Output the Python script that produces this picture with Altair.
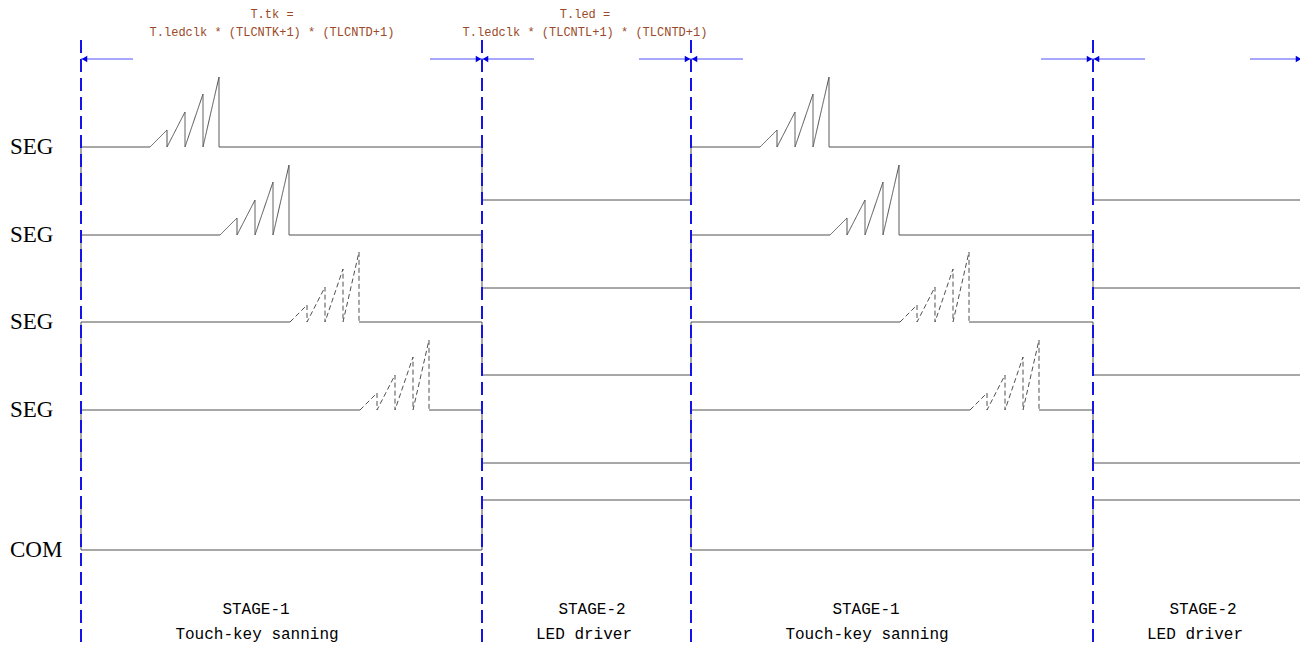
import altair as alt
import pandas as pd

# ---------------- data (time axis t, level axis in diagram units) ----------------
boundaries = [0, 401, 610, 1012, 1221]          # stage boundaries
stage_title = ["STAGE-1", "STAGE-2", "STAGE-1", "STAGE-2"]
stage_desc = ["Touch-key sanning", "LED driver", "Touch-key sanning", "LED driver"]
title_offset = [175, 110, 175, 110]
desc_offset = [176, 102, 176, 102]

signal_names = ["SEG", "SEG", "SEG", "SEG", "COM"]
level_stage1 = [147, 235, 322, 410, 550]
level_stage2 = [200, 288, 375, 463, 500]

ramp_start = 69
tooth_peaks = [86, 104, 122, 138]
tooth_heights = [17, 35, 53, 70]
seg_shift = [0, 70, 140, 210]
tooth_dashed = [False, False, True, True]

formula_head = ["T.tk =", "T.led ="]
formula_body = ["T.ledclk * (TLCNTK+1) * (TLCNTD+1)",
                "T.ledclk * (TLCNTL+1) * (TLCNTD+1)"]
formula_t = [191, 504]

arrow_len = 52
arrow_level = 59
guide_top = 40

# ---------------- layout ----------------
W, H = 1292, 640
X0 = 81  # pixel of t = 0
xscale = alt.Scale(domain=[8 - X0, 8 + W - X0], nice=False, zero=False)
yscale = alt.Scale(domain=[8 + H, 8], nice=False, zero=False)

# ---------------- signal paths ----------------
rows = []
pid = [0]


def add(style, pts):
    for k, (t, y) in enumerate(pts):
        rows.append(dict(path=pid[0], style=style, k=k, t=t, y=y))
    pid[0] += 1


for i, name in enumerate(signal_names):
    hi, lo = level_stage1[i], level_stage2[i]
    for c in range(2):
        s1, s2, e = boundaries[2 * c], boundaries[2 * c + 1], boundaries[2 * c + 2]
        if name == "SEG":
            r0 = s1 + ramp_start + seg_shift[i]
            last = s1 + tooth_peaks[-1] + seg_shift[i]
            add("solid", [(s1, lo), (s1, hi), (r0, hi)])
            teeth = [(r0, hi)]
            for p, h in zip(tooth_peaks, tooth_heights):
                tp = s1 + p + seg_shift[i]
                teeth += [(tp, hi - h), (tp, hi)]
            add("dashed" if tooth_dashed[i] else "solid", teeth)
            add("solid", [(last, hi), (s2, hi), (s2, lo), (e, lo)])
        else:
            add("solid", [(s1, lo), (s1, hi), (s2, hi), (s2, lo), (e, lo)])

sig_df = pd.DataFrame(rows)

signals = alt.Chart(sig_df).mark_line(color="#505050", strokeWidth=1).encode(
    x=alt.X("t:Q", scale=xscale, axis=None),
    y=alt.Y("y:Q", scale=yscale, axis=None),
    detail="path:N",
    order="k:Q",
    strokeDash=alt.StrokeDash("style:N", legend=None,
                              scale=alt.Scale(domain=["solid", "dashed"],
                                              range=[[1, 0], [5, 3]])),
)

# ---------------- blue guides ----------------
guide_df = pd.DataFrame({"t": boundaries, "y": [guide_top] * 5, "y2": [8 + H] * 5})
guides = alt.Chart(guide_df).mark_rule(color="#1414e6", strokeWidth=2,
                                       strokeDash=[13, 6]).encode(
    x=alt.X("t:Q", scale=xscale, axis=None),
    y=alt.Y("y:Q", scale=yscale, axis=None),
    y2="y2:Q",
)

arr_rows = []
head_rows = []
for j in range(4):
    s, e = boundaries[j], boundaries[j + 1]
    arr_rows += [dict(t=s, t2=s + arrow_len, y=arrow_level),
                 dict(t=e - arrow_len, t2=e, y=arrow_level)]
    head_rows += [dict(t=s, y=arrow_level, dir="left"),
                  dict(t=e, y=arrow_level, dir="right")]
arr_df = pd.DataFrame(arr_rows)
head_df = pd.DataFrame(head_rows)

arrow_lines = alt.Chart(arr_df).mark_rule(color="#5050ff", strokeWidth=1).encode(
    x=alt.X("t:Q", scale=xscale, axis=None), x2="t2:Q",
    y=alt.Y("y:Q", scale=yscale, axis=None),
)
heads_left = alt.Chart(head_df).transform_filter("datum.dir == 'left'").mark_point(
    shape="triangle-left", filled=True, size=40, color="#0000e0", opacity=1, xOffset=3.5
).encode(x=alt.X("t:Q", scale=xscale, axis=None), y=alt.Y("y:Q", scale=yscale, axis=None))
heads_right = alt.Chart(head_df).transform_filter("datum.dir == 'right'").mark_point(
    shape="triangle-right", filled=True, size=40, color="#0000e0", opacity=1, xOffset=-3.5
).encode(x=alt.X("t:Q", scale=xscale, axis=None), y=alt.Y("y:Q", scale=yscale, axis=None))

# ---------------- texts ----------------
form_rows = []
for j in range(2):
    form_rows += [dict(t=formula_t[j], y=14, txt=formula_head[j]),
                  dict(t=formula_t[j], y=32, txt=formula_body[j])]
form_df = pd.DataFrame(form_rows)
formulas = alt.Chart(form_df).mark_text(font="Liberation Mono", fontSize=12,
                                        color="#9a4a28", baseline="middle",
                                        align="center").encode(
    x=alt.X("t:Q", scale=xscale, axis=None),
    y=alt.Y("y:Q", scale=yscale, axis=None), text="txt:N")

lab_df = pd.DataFrame({"t": [-71] * 5, "y": level_stage1, "txt": signal_names})
labels = alt.Chart(lab_df).mark_text(font="Liberation Serif", fontSize=23,
                                     color="#000000", baseline="middle",
                                     align="left").encode(
    x=alt.X("t:Q", scale=xscale, axis=None),
    y=alt.Y("y:Q", scale=yscale, axis=None), text="txt:N")

st_rows = []
for j in range(4):
    st_rows += [dict(t=boundaries[j] + title_offset[j], y=609, txt=stage_title[j]),
                dict(t=boundaries[j] + desc_offset[j], y=634, txt=stage_desc[j])]
st_df = pd.DataFrame(st_rows)
stage_text = alt.Chart(st_df).mark_text(font="Liberation Mono", fontSize=16,
                                        color="#000000", baseline="middle",
                                        align="center").encode(
    x=alt.X("t:Q", scale=xscale, axis=None),
    y=alt.Y("y:Q", scale=yscale, axis=None), text="txt:N")

chart = alt.layer(signals, guides, arrow_lines, heads_left, heads_right,
                  formulas, labels, stage_text).properties(
    width=W, height=H, padding=0, autosize=alt.AutoSizeParams(type="none"),
    background="#ffffff",
).configure_view(stroke=None)

chart.save("out.html", embed_options={"renderer": "svg", "actions": False})
